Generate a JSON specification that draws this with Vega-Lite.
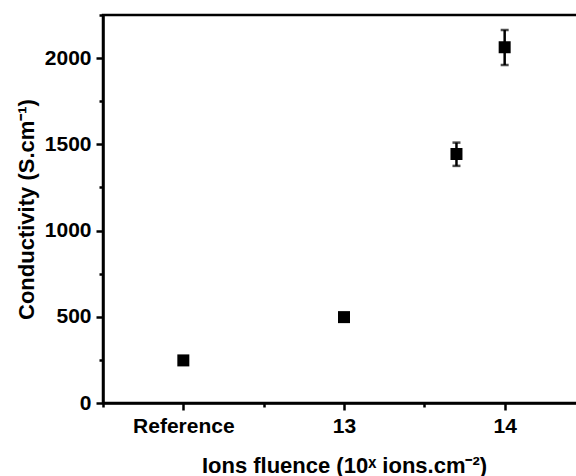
{
  "$schema": "https://vega.github.io/schema/vega-lite/v6.json",
  "autosize": "none",
  "padding": {"left": 103, "top": 15, "right": 0, "bottom": 73},
  "width": 482,
  "height": 388,
  "background": "white",
  "config": {
    "view": {"stroke": "black", "strokeWidth": 2.5},
    "font": "Liberation Sans"
  },
  "data": {
    "values": [
      {"fluence": 12, "conductivity": 247, "lo": null, "hi": null},
      {"fluence": 13, "conductivity": 498, "lo": null, "hi": null},
      {"fluence": 13.7, "conductivity": 1444, "lo": 1375, "hi": 1510},
      {"fluence": 14, "conductivity": 2063, "lo": 1960, "hi": 2163}
    ]
  },
  "encoding": {
    "x": {
      "field": "fluence",
      "type": "quantitative",
      "scale": {"domain": [11.5, 14.5], "nice": false, "zero": false},
      "axis": {
        "title": "Ions fluence (10ˣ ions.cm⁻²)",
        "values": [11.5, 12, 12.5, 13, 13.5, 14, 14.5],
        "labelExpr": "datum.value == 12 ? 'Reference' : (datum.value % 1 == 0 ? toString(datum.value) : '')",
        "grid": false,
        "domainColor": "black",
        "domainWidth": 2.5,
        "tickColor": "black",
        "tickWidth": 2.5,
        "tickSize": {"condition": {"test": "datum.value % 1 != 0", "value": 4}, "value": 7},
        "labelFont": "Liberation Sans",
        "labelFontWeight": "bold",
        "labelFontSize": 21,
        "labelColor": "black",
        "labelPadding": 5,
        "labelFlush": false,
        "labelOverlap": false,
        "titleFont": "Liberation Sans",
        "titleFontWeight": "bold",
        "titleFontSize": 22,
        "titleColor": "black",
        "titlePadding": 19
      }
    },
    "y": {
      "field": "conductivity",
      "type": "quantitative",
      "scale": {"domain": [0, 2250], "nice": false},
      "axis": {
        "title": "Conductivity (S.cm⁻¹)",
        "values": [0, 250, 500, 750, 1000, 1250, 1500, 1750, 2000, 2250],
        "labelExpr": "datum.value % 500 == 0 ? toString(datum.value) : ''",
        "grid": false,
        "domainColor": "black",
        "domainWidth": 2.5,
        "tickColor": "black",
        "tickWidth": 2.5,
        "tickSize": {"condition": {"test": "datum.value % 500 != 0", "value": 4}, "value": 7},
        "labelFont": "Liberation Sans",
        "labelFontWeight": "bold",
        "labelFontSize": 21,
        "labelColor": "black",
        "labelPadding": 5,
        "labelFlush": false,
        "labelOverlap": false,
        "titleFont": "Liberation Sans",
        "titleFontWeight": "bold",
        "titleFontSize": 22,
        "titleColor": "black",
        "titlePadding": 6
      }
    }
  },
  "layer": [
    {
      "transform": [{"filter": "datum.hi != null"}],
      "mark": {"type": "rule", "color": "black", "strokeWidth": 2.5},
      "encoding": {"y": {"field": "lo", "type": "quantitative"}, "y2": {"field": "hi"}}
    },
    {
      "transform": [{"filter": "datum.hi != null"}],
      "mark": {"type": "tick", "color": "black", "orient": "horizontal", "size": 8, "thickness": 2.5},
      "encoding": {"y": {"field": "lo", "type": "quantitative"}}
    },
    {
      "transform": [{"filter": "datum.hi != null"}],
      "mark": {"type": "tick", "color": "black", "orient": "horizontal", "size": 8, "thickness": 2.5},
      "encoding": {"y": {"field": "hi", "type": "quantitative"}}
    },
    {
      "mark": {"type": "point", "shape": "square", "filled": true, "color": "black", "size": 144, "opacity": 1}
    }
  ]
}
